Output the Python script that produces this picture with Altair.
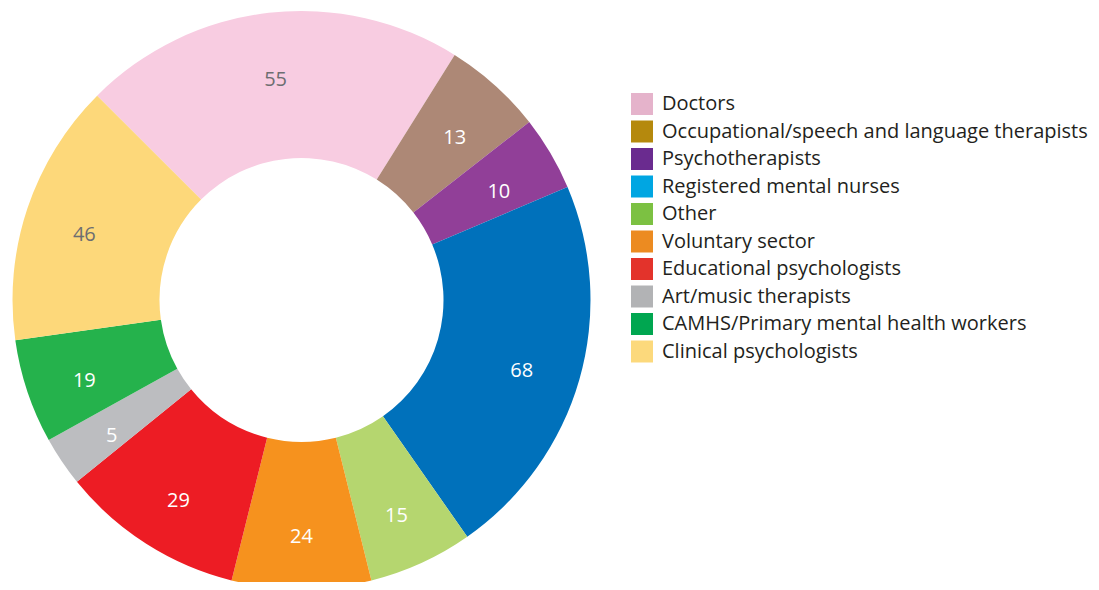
import altair as alt
import pandas as pd
import math

# Categories in clockwise order starting at the upper-left boundary
categories = [
    "Doctors",
    "Occupational/speech and language therapists",
    "Psychotherapists",
    "Registered mental nurses",
    "Other",
    "Voluntary sector",
    "Educational psychologists",
    "Art/music therapists",
    "CAMHS/Primary mental health workers",
    "Clinical psychologists",
]
# Printed numbers on the slices
counts = [55, 13, 10, 68, 15, 24, 29, 5, 19, 46]
# Slice sizes as drawn in the picture (degrees of the ring, estimated)
slice_share = [77, 20, 15, 78, 21, 28, 37, 10, 21, 53]

slice_colors = ["#f8cce1", "#ad8876", "#913f98", "#0071bb", "#b5d66f",
                "#f6921e", "#ed1c24", "#bcbdc0", "#25b24c", "#fdd87a"]
legend_colors = ["#e5b3cb", "#b5890d", "#6a2b8f", "#00a6e2", "#7cc142",
                 "#ec8b21", "#e3332b", "#b2b3b5", "#00a650", "#fcd97c"]
label_colors = ["#6d6e71", "#ffffff", "#ffffff", "#ffffff", "#ffffff",
                "#ffffff", "#ffffff", "#ffffff", "#ffffff", "#6d6e71"]

df = pd.DataFrame({
    "idx": list(range(len(categories))),
    "category": categories,
    "count": counts,
    "share": slice_share,
    "slice_color": slice_colors,
    "label_color": label_colors,
})

start = math.radians(315)
theta = alt.Theta("share:Q", stack=True,
                  scale=alt.Scale(range=[start, start + 2 * math.pi]))
cx, cy = 293.5, 292

base = alt.Chart(df)

arcs = base.mark_arc(innerRadius=142, outerRadius=289, stroke=None).encode(
    theta=theta,
    order=alt.Order("idx:Q"),
    fill=alt.Fill("slice_color:N", scale=None),
    x=alt.value(cx),
    y=alt.value(cy),
)

labels = base.mark_text(radius=229, dy=8, fontSize=20, font="Open Sans").encode(
    theta=theta,
    order=alt.Order("idx:Q"),
    text=alt.Text("count:Q"),
    fill=alt.Fill("label_color:N", scale=None),
    x=alt.value(cx),
    y=alt.value(cy),
)

legend_layer = base.mark_arc(innerRadius=0, outerRadius=0).encode(
    theta=theta,
    order=alt.Order("idx:Q"),
    color=alt.Color(
        "category:N",
        scale=alt.Scale(domain=categories, range=legend_colors),
        sort=categories,
        legend=alt.Legend(
            title=None,
            orient="none",
            legendX=623,
            legendY=85,
            symbolType="square",
            symbolSize=484,
            symbolStrokeWidth=0,
            symbolOpacity=1,
            labelFontSize=20,
            labelFont="Open Sans",
            labelColor="#231f20",
            labelOffset=9,
            labelLimit=700,
            rowPadding=5.5,
            padding=0,
        ),
    ),
    x=alt.value(cx),
    y=alt.value(cy),
)

chart = alt.layer(arcs, labels, legend_layer).properties(
    width=1083, height=574, padding=0, autosize="none"
).configure(
    background="white",
    view=alt.ViewConfig(stroke=None),
)

chart.save("out.html", embed_options={"renderer": "svg", "actions": False})
